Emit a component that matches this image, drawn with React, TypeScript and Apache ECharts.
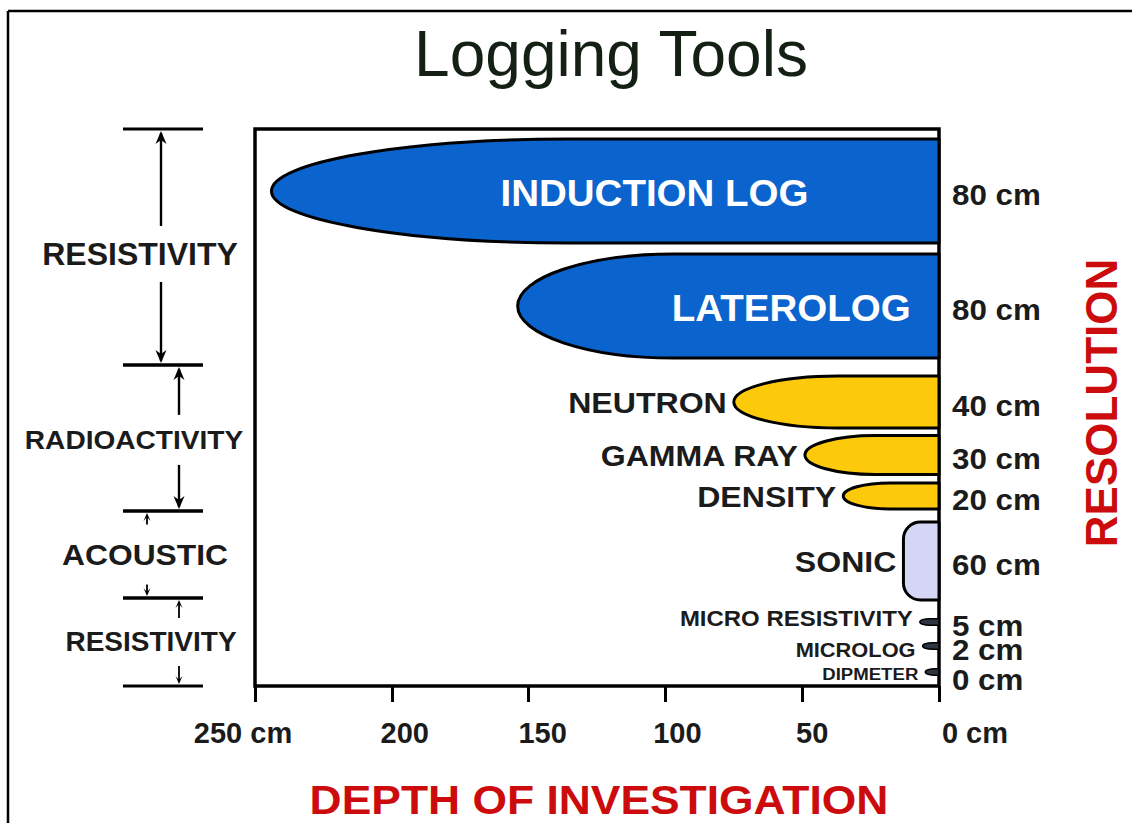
import React, { useEffect, useRef } from "react";
import * as echarts from "echarts";

// ---------- data ----------
const tools = [
  "INDUCTION LOG",
  "LATEROLOG",
  "NEUTRON",
  "GAMMA RAY",
  "DENSITY",
  "SONIC",
  "MICRO RESISTIVITY",
  "MICROLOG",
  "DIPMETER",
];
// depth of investigation (cm)
const depthCm = [244, 154, 75, 49, 35, 13, 7, 6, 5];
// vertical resolution (cm)
const resolutionCm = [80, 80, 40, 30, 20, 60, 5, 2, 0];
// row centre on the vertical (resolution-scaled) axis
const rowCenter = [47.7, 136.2, 210, 250.8, 282.3, 332.3, 379.2, 397.7, 417.7];

const groupNames = ["RESISTIVITY", "RADIOACTIVITY", "ACOUSTIC", "RESISTIVITY"];
const groupStart = [0, 181.5, 293.8, 360.8];
const groupEnd = [181.5, 293.8, 360.8, 428.5];

const xTickLabels: Record<string, string> = {
  "0": "0 cm",
  "50": "50",
  "100": "100",
  "150": "150",
  "200": "200",
  "250": "250 cm",
};

// ---------- styles ----------
const FONT = "'Liberation Sans', Arial, Helvetica, sans-serif";
const INK = "#1b1b1b";
const RED = "#cc0c0c";
const BLUE = "#0b63cd";
const YELLOW = "#fcc90b";

const toolStyle: Record<string, any> = {
  "INDUCTION LOG": { fill: BLUE, nose: 2.85, lw: 3, inside: true, labelAt: 104, font: 36 },
  LATEROLOG: { fill: BLUE, nose: 1.5, lw: 3, inside: true, labelAt: 54, font: 36 },
  NEUTRON: { fill: YELLOW, nose: 2.0, lw: 3, font: 30 },
  "GAMMA RAY": { fill: YELLOW, nose: 1.8, lw: 3, font: 30 },
  DENSITY: { fill: YELLOW, nose: 1.8, lw: 3, font: 30 },
  SONIC: { fill: "#d5d5f6", round: 17, lw: 3, font: 30 },
  "MICRO RESISTIVITY": { fill: "#2e3440", nose: 1.5, lw: 1.5, font: 22.4, dy: -5, rdy: 0 },
  MICROLOG: { fill: "#2e3440", nose: 1.5, lw: 1.5, font: 20.4, dy: 3, rdy: 0 },
  DIPMETER: { fill: "#2e3440", nose: 1.5, lw: 1.5, font: 17.4, dy: 1, rdy: 4 },
};

const groupLayout = [
  { ax: -94, lx: -115, font: 32, sx: 1, big: true, gap: 28, dy: 7 },
  { ax: -76, lx: -121, font: 26, sx: 1.08, big: true, gap: 25, dy: 2 },
  { ax: -108, lx: -110, font: 30, sx: 1.06, big: false, gap: 30, dy: 0 },
  { ax: -76, lx: -104, font: 28, sx: 1.0, big: false, gap: 24, dy: 0 },
];

const tickShift: Record<string, number> = {
  "0": 36,
  "50": 10,
  "100": 12,
  "150": 14,
  "200": 13,
  "250": -12,
};

export default function App() {
  const ref = useRef<HTMLDivElement>(null);

  useEffect(() => {
    document.body.style.margin = "0";
    document.body.style.overflow = "hidden";
    if (!ref.current) return;
    const chart = echarts.init(ref.current, undefined, { renderer: "svg" });

    const rich: Record<string, any> = {};
    Object.keys(tickShift).forEach((k) => {
      const s = tickShift[k];
      rich["t" + k] = {
        fontFamily: FONT,
        fontWeight: "bold",
        fontSize: 29,
        color: INK,
        padding: s >= 0 ? [0, 0, 0, 2 * s] : [0, -2 * s, 0, 0],
      };
    });

    const toolData = tools.map((_, i) => [depthCm[i], rowCenter[i], resolutionCm[i]]);
    const groupData = groupNames.map((_, i) => [0, groupStart[i], groupEnd[i]]);

    const option: any = {
      animation: false,
      backgroundColor: "#ffffff",
      grid: {
        left: 255,
        top: 129,
        width: 684,
        height: 557,
        show: true,
        borderColor: "#000",
        borderWidth: 3.5,
        backgroundColor: "transparent",
      },
      xAxis: {
        type: "value",
        position: "bottom",
        inverse: true,
        min: 0,
        max: 250,
        interval: 50,
        axisLine: { show: false, onZero: false },
        splitLine: { show: false },
        axisTick: { show: true, length: 16, lineStyle: { color: "#000", width: 3 } },
        axisLabel: {
          margin: 32,
          formatter: (v: number) => `{t${v}|${xTickLabels[String(v)]}}`,
          rich,
        },
      },
      yAxis: {
        type: "value",
        inverse: true,
        min: 0,
        max: 428.5,
        show: false,
      },
      series: [
        {
          type: "custom",
          name: "tools",
          clip: false,
          data: toolData,
          encode: { x: 0, y: 1 },
          renderItem: (params: any, api: any) => {
            const i = params.dataIndex;
            const name = tools[i];
            const st = toolStyle[name];
            const depth = api.value(0);
            const center = api.value(1);
            const res = api.value(2);
            const t = Math.max(res, 5);
            const pTop = api.coord([0, center - t / 2]);
            const pBot = api.coord([depth, center + t / 2]);
            const x0 = pTop[0];
            const yTop = pTop[1];
            const xn = pBot[0];
            const yBot = pBot[1];
            const h = yBot - yTop;
            const ym = (yTop + yBot) / 2;
            let d = "";
            if (st.round) {
              const r = Math.min(st.round, h / 2, x0 - xn);
              const q = 0.448 * r;
              d =
                `M${x0} ${yTop} L${xn + r} ${yTop} ` +
                `C${xn + q} ${yTop} ${xn} ${yTop + q} ${xn} ${yTop + r} ` +
                `L${xn} ${yBot - r} ` +
                `C${xn} ${yBot - q} ${xn + q} ${yBot} ${xn + r} ${yBot} ` +
                `L${x0} ${yBot} Z`;
            } else {
              const e = Math.min(st.nose * h, x0 - xn);
              const xa = xn + e;
              const k = 0.552;
              d =
                `M${x0} ${yTop} L${xa} ${yTop} ` +
                `C${xa - k * e} ${yTop} ${xn} ${ym - (k * h) / 2} ${xn} ${ym} ` +
                `C${xn} ${ym + (k * h) / 2} ${xa - k * e} ${yBot} ${xa} ${yBot} ` +
                `L${x0} ${yBot} Z`;
            }
            const children: any[] = [
              {
                type: "path",
                shape: { pathData: d },
                style: { fill: st.fill, stroke: "#000", lineWidth: st.lw, lineJoin: "round" },
              },
            ];
            if (st.inside) {
              const lx = api.coord([st.labelAt, center])[0];
              children.push({
                type: "text",
                x: lx,
                y: ym + 2,
                scaleX: 1.07,
                style: {
                  text: name,
                  fill: "#ffffff",
                  fontFamily: FONT,
                  fontWeight: "bold",
                  fontSize: st.font,
                  align: "center",
                  verticalAlign: "middle",
                },
              });
            } else {
              children.push({
                type: "text",
                x: xn - 7,
                y: ym + 1 + (st.dy || 0),
                scaleX: 1.07,
                style: {
                  text: name,
                  fill: INK,
                  fontFamily: FONT,
                  fontWeight: "bold",
                  fontSize: st.font,
                  align: "right",
                  verticalAlign: "middle",
                },
              });
            }
            children.push({
              type: "text",
              x: x0 + 13,
              y: ym + 4 + (st.rdy || 0),
              scaleX: 1.08,
              style: {
                text: `${res} cm`,
                fill: INK,
                fontFamily: FONT,
                fontWeight: "bold",
                fontSize: 29,
                align: "left",
                verticalAlign: "middle",
              },
            });
            return { type: "group", children };
          },
          z: 3,
        },
        {
          type: "custom",
          name: "groups",
          clip: false,
          data: groupData,
          encode: { x: 0, y: 1 },
          renderItem: (params: any, api: any) => {
            const i = params.dataIndex;
            const L = groupLayout[i];
            const gl = params.coordSys.x;
            const yS = api.coord([0, api.value(1)])[1];
            const yE = api.coord([0, api.value(2)])[1];
            const mid = (yS + yE) / 2 + L.dy;
            const ax = gl + L.ax;
            const w = L.big ? 5.5 : 3.5;
            const l = L.big ? 13 : 8;
            const lw = L.big ? 2.4 : 1.8;
            const ink = { stroke: "#000", lineWidth: lw };
            const children: any[] = [
              { type: "line", shape: { x1: gl - 132, y1: yS, x2: gl - 52, y2: yS }, style: { stroke: "#000", lineWidth: 3 } },
              { type: "line", shape: { x1: gl - 132, y1: yE, x2: gl - 52, y2: yE }, style: { stroke: "#000", lineWidth: 3 } },
              { type: "line", shape: { x1: ax, y1: yS + 4, x2: ax, y2: mid - L.gap }, style: ink },
              {
                type: "polygon",
                shape: { points: [[ax, yS + 2], [ax - w, yS + 2 + l], [ax, yS + l - 2], [ax + w, yS + 2 + l]] },
                style: { fill: "#000" },
              },
              { type: "line", shape: { x1: ax, y1: mid + L.gap, x2: ax, y2: yE - 4 }, style: ink },
              {
                type: "polygon",
                shape: { points: [[ax, yE - 2], [ax - w, yE - 2 - l], [ax, yE - l + 2], [ax + w, yE - 2 - l]] },
                style: { fill: "#000" },
              },
              {
                type: "text",
                x: gl + L.lx,
                y: mid,
                scaleX: L.sx,
                style: {
                  text: groupNames[i],
                  fill: INK,
                  fontFamily: FONT,
                  fontWeight: "bold",
                  fontSize: L.font,
                  align: "center",
                  verticalAlign: "middle",
                },
              },
            ];
            return { type: "group", children };
          },
          z: 3,
        },
      ],
      graphic: [
        { type: "line", shape: { x1: 8, y1: 11, x2: 8, y2: 823 }, style: { stroke: "#000", lineWidth: 2.5 } },
        { type: "line", shape: { x1: 8, y1: 11, x2: 1132, y2: 11 }, style: { stroke: "#000", lineWidth: 2.5 } },
        {
          type: "text",
          x: 611,
          y: 54,
          style: {
            text: "Logging Tools",
            fill: "#132013",
            fontFamily: FONT,
            fontSize: 64,
            align: "center",
            verticalAlign: "middle",
          },
        },
        {
          type: "text",
          x: 1101,
          y: 403,
          rotation: Math.PI / 2,
          style: {
            text: "RESOLUTION",
            fill: RED,
            fontFamily: FONT,
            fontWeight: "bold",
            fontSize: 44,
            align: "center",
            verticalAlign: "middle",
          },
        },
        {
          type: "text",
          x: 599,
          y: 800,
          scaleX: 1.11,
          style: {
            text: "DEPTH OF INVESTIGATION",
            fill: RED,
            fontFamily: FONT,
            fontWeight: "bold",
            fontSize: 40,
            align: "center",
            verticalAlign: "middle",
          },
        },
      ],
    };

    chart.setOption(option);
    return () => {
      chart.dispose();
    };
  }, []);

  return <div ref={ref} style={{ width: 1132, height: 823 }} />;
}
